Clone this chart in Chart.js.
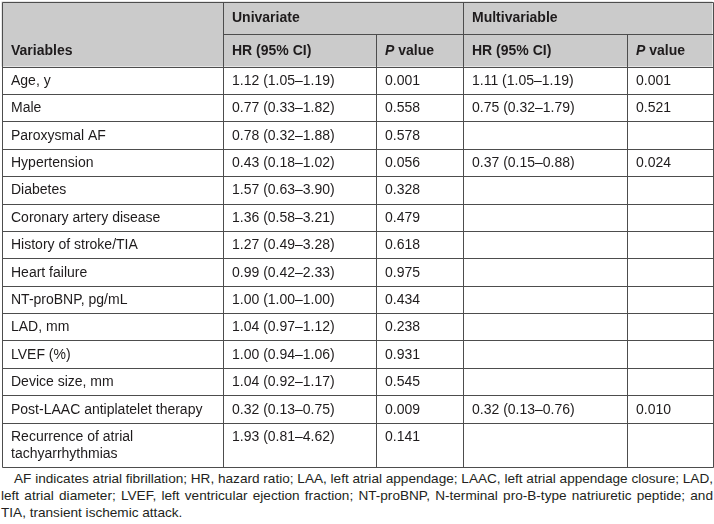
<!DOCTYPE html>
<html>
<head>
<meta charset="utf-8">
<script src="https://cdn.jsdelivr.net/npm/chart.js@4.4.0/dist/chart.umd.min.js"></script>
<style>
  body { margin: 0; background: #fff; font-family: "Liberation Sans", Arial, sans-serif; }
  #wrap { position: relative; width: 714px; height: 468px; }
  #note { width: 712px; margin: 2px 0 0 1px; font-size: 13.6px; line-height: 17px; color: #231f20; }
  #note div { text-align: justify; text-align-last: justify; white-space: nowrap; }
  #note div.first { text-indent: 13px; }
  #note div.last { text-align-last: left; }
</style>
</head>
<body>
<div id="wrap"><canvas id="tabla"></canvas></div>
<div id="note">
  <div class="first">AF indicates atrial fibrillation; HR, hazard ratio; LAA, left atrial appendage; LAAC, left atrial appendage closure; LAD,</div>
  <div>left atrial diameter; LVEF, left ventricular ejection fraction; NT-proBNP, N-terminal pro-B-type natriuretic peptide; and</div>
  <div class="last">TIA, transient ischemic attack.</div>
</div>
<script>
// datos de la tabla
const variables = [
  "Age, y", "Male", "Paroxysmal AF", "Hypertension", "Diabetes",
  "Coronary artery disease", "History of stroke/TIA", "Heart failure",
  "NT-proBNP, pg/mL", "LAD, mm", "LVEF (%)", "Device size, mm",
  "Post-LAAC antiplatelet therapy", "Recurrence of atrial tachyarrhythmias"
];
const uniHR = [
  "1.12 (1.05–1.19)", "0.77 (0.33–1.82)", "0.78 (0.32–1.88)", "0.43 (0.18–1.02)",
  "1.57 (0.63–3.90)", "1.36 (0.58–3.21)", "1.27 (0.49–3.28)", "0.99 (0.42–2.33)",
  "1.00 (1.00–1.00)", "1.04 (0.97–1.12)", "1.00 (0.94–1.06)", "1.04 (0.92–1.17)",
  "0.32 (0.13–0.75)", "1.93 (0.81–4.62)"
];
const uniP = [
  "0.001", "0.558", "0.578", "0.056", "0.328", "0.479", "0.618",
  "0.975", "0.434", "0.238", "0.931", "0.545", "0.009", "0.141"
];
const multiHR = [
  "1.11 (1.05–1.19)", "0.75 (0.32–1.79)", "", "0.37 (0.15–0.88)", "", "", "",
  "", "", "", "", "", "0.32 (0.13–0.76)", ""
];
const multiP = [
  "0.001", "0.521", "", "0.024", "", "", "",
  "", "", "", "", "", "0.010", ""
];
const groupHeads = ["Univariate", "Multivariable"];
const colHeads = ["Variables", "HR (95% CI)", "P value", "HR (95% CI)", "P value"];

// layout (px en unidades de escala)
const W = 714, H = 468;
const colEdges = [1.5, 222.5, 375.5, 462.5, 626.5, 712.5];
const headTop = 1.5, headMid = 33.5, headBottom = 66.5;
const rowH = 27.4, lineH = 17, padX = 9.5;
const FONT = '"Liberation Sans", Arial, sans-serif';
const lineColor = "#4d4d4d", headFill = "#cbcbcb", textColor = "#1e1b1c";

function wrap(ctx, text, maxW) {
  const words = text.split(" ");
  const lines = [];
  let cur = "";
  words.forEach(w => {
    const t = cur ? cur + " " + w : w;
    if (ctx.measureText(t).width > maxW && cur) { lines.push(cur); cur = w; }
    else cur = t;
  });
  if (cur) lines.push(cur);
  return lines;
}

const tablePlugin = {
  id: "tabla",
  afterDraw(chart) {
    const ctx = chart.ctx;
    const xs = chart.scales.x, ys = chart.scales.y;
    const X = v => xs.getPixelForValue(v);
    const Y = v => ys.getPixelForValue(v);
    const cols = [variables, uniHR, uniP, multiHR, multiP];

    ctx.save();
    // fondo cabecera
    ctx.fillStyle = headFill;
    ctx.fillRect(X(colEdges[0]), Y(headTop), X(colEdges[5]) - X(colEdges[0]), Y(headBottom) - Y(headTop));

    // filas
    ctx.font = "14px " + FONT;
    const rows = [];
    let y = headBottom;
    variables.forEach(v => {
      const lines = wrap(ctx, v, colEdges[1] - colEdges[0] - 2 * padX);
      const h = rowH + (lines.length - 1) * lineH;
      rows.push({ top: y, lines });
      y += h;
    });
    const tableBottom = y;

    // líneas
    ctx.strokeStyle = lineColor;
    ctx.lineWidth = 1;
    const line = (x1, y1, x2, y2) => {
      ctx.beginPath();
      ctx.moveTo(Math.round(X(x1)) + 0.5, Math.round(Y(y1)) + 0.5);
      ctx.lineTo(Math.round(X(x2)) + 0.5, Math.round(Y(y2)) + 0.5);
      ctx.stroke();
    };
    line(colEdges[0], headTop, colEdges[5], headTop);
    line(colEdges[1], headMid, colEdges[5], headMid);
    line(colEdges[0], headBottom, colEdges[5], headBottom);
    rows.forEach((r, i) => { if (i > 0) line(colEdges[0], r.top, colEdges[5], r.top); });
    line(colEdges[0], tableBottom, colEdges[5], tableBottom);
    [0, 1, 3, 5].forEach(i => line(colEdges[i], headTop, colEdges[i], tableBottom));
    [2, 4].forEach(i => line(colEdges[i], headMid, colEdges[i], tableBottom));

    // texto cabecera
    ctx.fillStyle = textColor;
    ctx.textBaseline = "middle";
    ctx.textAlign = "left";
    ctx.font = "bold 14px " + FONT;
    const midTop = Y((headTop + headMid) / 2) + 1;
    const midBot = Y((headMid + headBottom) / 2) + 1;
    ctx.fillText(groupHeads[0], X(colEdges[1] + padX), midTop);
    ctx.fillText(groupHeads[1], X(colEdges[3] + padX), midTop);
    colHeads.forEach((h, i) => {
      const x0 = X(colEdges[i] + padX);
      if (h.startsWith("P ")) {
        ctx.font = "italic bold 14px " + FONT;
        ctx.fillText("P", x0, midBot);
        const w = ctx.measureText("P").width;
        ctx.font = "bold 14px " + FONT;
        ctx.fillText(h.slice(1), x0 + w, midBot);
      } else {
        ctx.font = "bold 14px " + FONT;
        ctx.fillText(h, x0, midBot);
      }
    });

    // texto celdas
    ctx.font = "14px " + FONT;
    rows.forEach((r, i) => {
      const cy = r.top + rowH / 2 + 0.8;
      cols.forEach((col, c) => {
        const x0 = X(colEdges[c] + padX);
        if (c === 0) {
          r.lines.forEach((t, k) => ctx.fillText(t, x0, Y(cy + k * lineH)));
        } else if (col[i]) {
          ctx.fillText(col[i], x0, Y(cy));
        }
      });
    });
    ctx.restore();
  }
};

new Chart(document.getElementById("tabla"), {
  type: "scatter",
  data: { datasets: [] },
  options: {
    responsive: true,
    maintainAspectRatio: false,
    animation: false,
    layout: { padding: 0 },
    plugins: { legend: { display: false }, tooltip: { enabled: false } },
    scales: {
      x: { type: "linear", min: 0, max: W, display: false },
      y: { type: "linear", min: 0, max: H, reverse: true, display: false }
    }
  },
  plugins: [tablePlugin]
});
</script>
</body>
</html>
